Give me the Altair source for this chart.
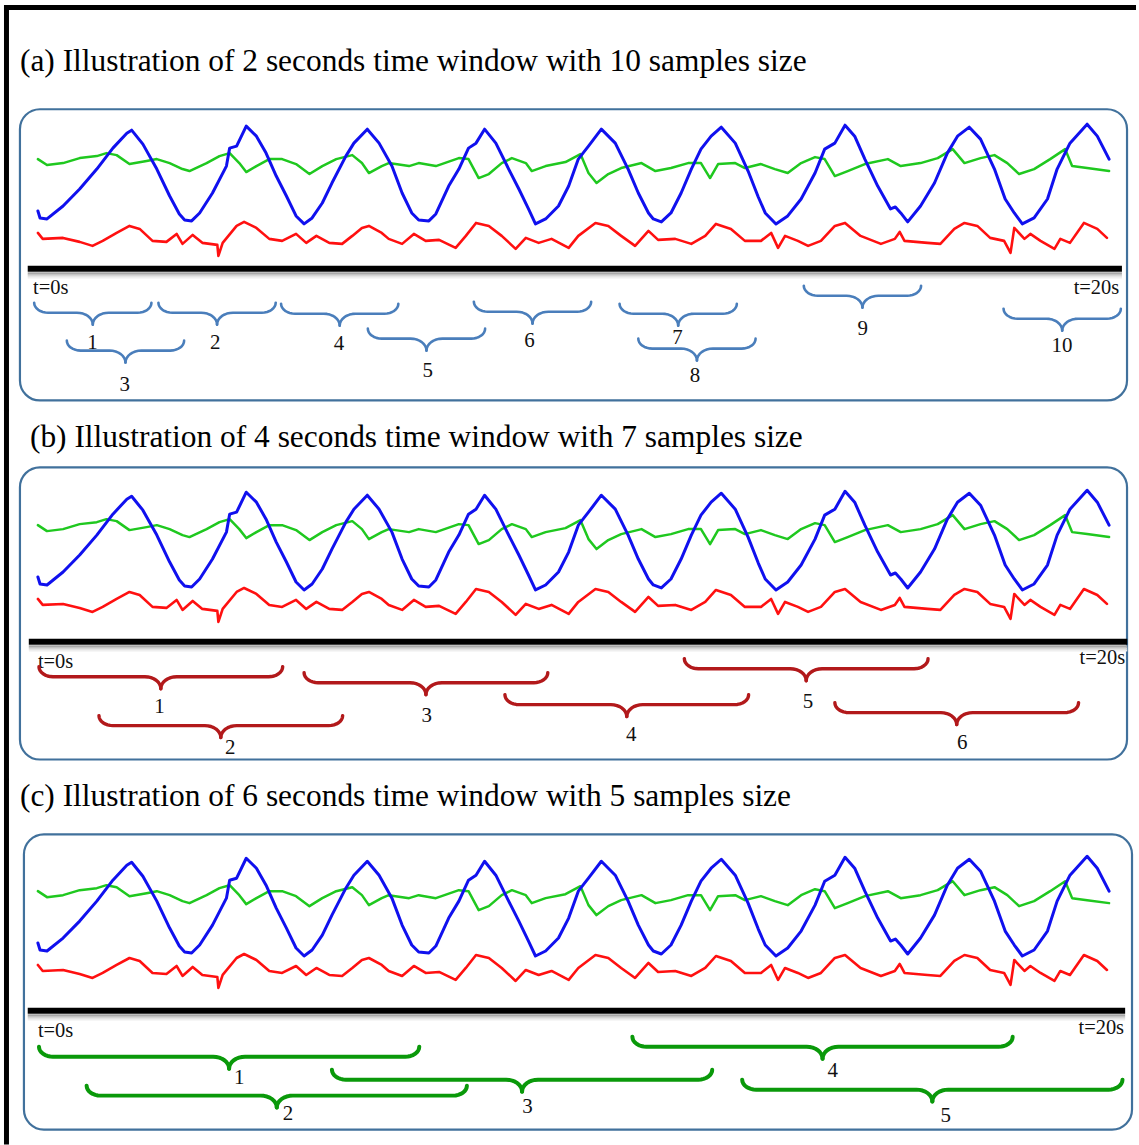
import math
import altair as alt
import pandas as pd

# ---------------- signal readings (time in s, amplitude in arbitrary units) -------------
BLUE_T = [0.00, 0.04, 0.17, 0.47, 0.78, 1.10, 1.40, 1.66, 1.75, 1.96, 2.22, 2.46, 2.64, 2.74, 2.87,
          3.02, 3.26, 3.52, 3.58, 3.71, 3.89, 4.08, 4.26, 4.45, 4.64, 4.82, 4.97, 5.12, 5.31, 5.49,
          5.75, 5.90, 6.15, 6.37, 6.61, 6.80, 6.98, 7.11, 7.30, 7.43, 7.67, 7.86, 8.04, 8.18, 8.34,
          8.55, 8.79, 8.98, 9.16, 9.29, 9.48, 9.72, 9.91, 10.09, 10.28, 10.52, 10.78, 11.02, 11.21,
          11.40, 11.49, 11.64, 11.82, 12.01, 12.20, 12.38, 12.57, 12.76, 13.02, 13.26, 13.45, 13.58,
          13.78, 14.00, 14.25, 14.51, 14.69, 14.88, 15.07, 15.25, 15.44, 15.68, 15.92, 16.01, 16.11,
          16.24, 16.48, 16.74, 16.98, 17.17, 17.39, 17.60, 17.86, 18.06, 18.23, 18.38, 18.60, 18.85,
          19.03, 19.27, 19.59, 19.78, 20.00]
BLUE_V = [58, 51, 50, 63, 80, 100, 121, 136, 139, 125, 100, 73, 55, 49, 48,
          56, 76, 103, 121, 123, 143, 133, 116, 93, 73, 53, 45, 51, 66, 86,
          113, 126, 140, 126, 103, 76, 56, 49, 48, 55, 83, 100, 121, 126, 140,
          126, 100, 80, 60, 45, 50, 63, 83, 110, 123, 140, 126, 100, 76,
          56, 50, 47, 56, 76, 100, 120, 133, 142, 126, 98, 72, 56,
          45, 53, 70, 96, 120, 126, 144, 133, 110, 83, 60, 62, 56,
          47, 63, 86, 116, 133, 142, 130, 100, 70, 56, 45, 51, 70,
          100, 126, 145, 133, 110]

GREEN_T = [0.00, 0.17, 0.47, 0.78, 1.10, 1.28, 1.47, 1.71, 2.03, 2.22, 2.46, 2.70, 2.83, 3.15, 3.39,
           3.58, 3.76, 3.89, 4.08, 4.32, 4.56, 4.82, 5.07, 5.31, 5.57, 5.87, 6.05, 6.18, 6.42, 6.55,
           6.93, 7.11, 7.43, 7.86, 8.04, 8.23, 8.42, 8.66, 8.85, 9.11, 9.22, 9.48, 9.85, 10.13, 10.28,
           10.43, 10.65, 10.89, 11.27, 11.53, 11.82, 12.14, 12.38, 12.55, 12.70, 13.02, 13.20, 13.50,
           13.76, 14.00, 14.25, 14.51, 14.69, 14.88, 15.12, 15.44, 15.87, 16.11, 16.48, 16.80, 17.08,
           17.30, 17.60, 17.86, 18.10, 18.32, 18.60, 18.90, 19.18, 19.31, 19.59, 20.00]
GREEN_V = [110, 104, 106, 111, 113, 116, 114, 105, 108, 110, 106, 100, 98, 106, 113,
           116, 106, 97, 103, 110, 110, 105, 95, 103, 110, 114, 106, 96, 103, 106,
           103, 106, 103, 111, 110, 91, 95, 106, 111, 106, 98, 103, 107, 115, 96,
           86, 95, 101, 106, 98, 101, 106, 106, 91, 105, 106, 101, 105,
           100, 96, 106, 112, 110, 93, 98, 105, 110, 103, 106, 111, 120,
           106, 111, 114, 106, 95, 100, 110, 120, 103, 101, 98]

RED_T = [0.00, 0.09, 0.47, 0.78, 1.02, 1.21, 1.47, 1.71, 1.90, 2.14, 2.40, 2.59, 2.70, 2.89, 3.07,
         3.35, 3.37, 3.45, 3.71, 3.85, 4.08, 4.32, 4.56, 4.82, 5.01, 5.20, 5.44, 5.68, 5.87, 6.05,
         6.18, 6.42, 6.55, 6.80, 7.02, 7.24, 7.49, 7.80, 7.99, 8.18, 8.42, 8.66, 8.92, 9.11, 9.35,
         9.59, 9.91, 10.09, 10.41, 10.65, 10.89, 11.15, 11.40, 11.58, 11.90, 12.20, 12.46, 12.66,
         12.94, 13.20, 13.50, 13.69, 13.82, 13.95, 14.19, 14.38, 14.62, 14.88, 15.07, 15.36, 15.74,
         16.00, 16.09, 16.18, 16.61, 16.85, 17.11, 17.30, 17.54, 17.78, 18.04, 18.16, 18.23, 18.42,
         18.53, 18.72, 18.98, 19.09, 19.27, 19.53, 19.78, 19.96]
RED_V = [36, 30, 31, 27, 23, 28, 36, 43, 40, 28, 27, 35, 25, 34, 26,
         24, 13, 26, 43, 47, 41, 30, 28, 35, 26, 33, 26, 25, 33, 41,
         43, 36, 30, 25, 35, 28, 29, 21, 33, 46, 43, 33, 20, 31, 26,
         30, 21, 33, 46, 43, 33, 23, 38, 29, 30, 25, 33, 45,
         40, 28, 28, 36, 21, 33, 28, 23, 28, 43, 46, 33, 25,
         30, 37, 28, 26, 25, 40, 46, 43, 31, 28, 16, 41, 30,
         35, 28, 20, 30, 26, 46, 40, 31]

# ---------------- windows (braces) ----------------
TITLES = ["(a) Illustration of 2 seconds time window with 10 samples size",
          "(b) Illustration of 4 seconds time window with 7 samples size",
          "(c) Illustration of 6 seconds time window with 5 samples size"]

A_LABELS = ["1", "2", "3", "4", "5", "6", "7", "8", "9", "10"]
A_START = [-0.07, 2.25, 0.54, 4.54, 6.16, 8.14, 10.86, 11.21, 14.30, 18.03]
A_LEN = 2.19
A_ROW = [-34, -34, -72, -35, -60, -33, -35, -70, -17, -40]
A_LX = [1.02, 3.31, 1.62, 5.62, 7.28, 9.18, 11.94, 12.27, 15.40, 19.12]
A_LY = [-74, -74, -117, -75, -102, -72, -69, -107, -60, -77]

B_LABELS = ["1", "2", "3", "4", "5", "6"]
B_START = [0.02, 1.14, 4.97, 8.72, 12.07, 14.88]
B_LEN = 4.55
B_ROW = [-32, -81, -38, -60, -24, -68]
B_LX = [2.27, 3.59, 7.26, 11.08, 14.38, 17.26]
B_LY = [-72, -113, -81, -100, -67, -108]

C_LABELS = ["1", "2", "3", "4", "5"]
C_START = [0.02, 0.91, 5.49, 11.10, 13.15]
C_LEN = 7.10
C_ROW = [-46, -85, -69, -36, -79]
C_LX = [3.76, 4.67, 9.14, 14.84, 16.95]
C_LY = [-77, -113, -106, -70, -115]

# ---------------- layout / style ----------------
W = 1139
PX_PER_S = 53.7
X_DOMAIN = [-38 / PX_PER_S, (W - 38) / PX_PER_S]
FONT = "Liberation Serif"
BOX_COLOR = "#41719c"

PANELS = [
    dict(title=TITLES[0], height=410, ydom=[-142, 268], tx=20, ty=70, box=(20, 1130, 108, 400),
         line=(-0.19, 20.24, 0), t0=(-0.09, -19), t20=(20.19, -19),
         color="#4a7ebb", bw=2.6, labels=A_LABELS, start=A_START, length=A_LEN, row=A_ROW,
         lx=A_LX, ly=A_LY, top=True),
    dict(title=TITLES[1], height=370, ydom=[-145, 225], tx=30, ty=37, box=(20, 1130, 57, 350),
         line=(-0.17, 20.34, -7), t0=(0.0, -27), t20=(20.30, -23),
         color="#b2191b", bw=3.4, labels=B_LABELS, start=B_START, length=B_LEN, row=B_ROW,
         lx=B_LX, ly=B_LY, top=False),
    dict(title=TITLES[2], height=365, ydom=[-143, 222], tx=20, ty=27, box=(24, 1135, 55, 351),
         line=(-0.19, 20.30, -10), t0=(0.0, -30), t20=(20.28, -27),
         color="#0a990a", bw=4.0, labels=C_LABELS, start=C_START, length=C_LEN, row=C_ROW,
         lx=C_LX, ly=C_LY, top=False),
]

signals = pd.concat([
    pd.DataFrame({"t": BLUE_T, "v": BLUE_V, "s": "blue"}),
    pd.DataFrame({"t": GREEN_T, "v": GREEN_V, "s": "green"}),
    pd.DataFrame({"t": RED_T, "v": RED_V, "s": "red"}),
], ignore_index=True)


def brace_frame(starts, length, rows, h1=10, h2=12, r1=14, r2=16, n=8):
    """Curly-brace glyph outline for each window (start .. start+length) at a given row."""
    out = []
    a1, a2 = r1 / PX_PER_S, r2 / PX_PER_S
    angs = [math.pi / 2 * j / n for j in range(n + 1)]
    for k, (s, tip) in enumerate(zip(starts, rows)):
        e = s + length
        m = (s + e) / 2
        flat = tip - h1
        # left curl, flat, dip to centre
        left = [(s + a1 * (1 - math.cos(a)), tip - h1 * math.sin(a)) for a in angs]
        left += [(m - a2 + a2 * math.sin(a), flat - h2 * (1 - math.cos(a))) for a in angs]
        right = [(2 * m - x, y) for (x, y) in reversed(left)]
        for half, pts in (("L", left), ("R", right)):
            for i, (x, y) in enumerate(pts):
                out.append({"id": f"{k}{half}", "i": i, "t": x, "v": y})
    return pd.DataFrame(out)


ONE = alt.Data(values=[{}])


def panel(p):
    xs = alt.Scale(domain=X_DOMAIN, nice=False, zero=False)
    ys = alt.Scale(domain=p["ydom"], nice=False, zero=False)
    X = lambda f: alt.X(f"{f}:Q", scale=xs, axis=None)
    Y = lambda f: alt.Y(f"{f}:Q", scale=ys, axis=None)
    H = p["height"]
    layers = []

    # outer frame (left and top edges)
    layers.append(alt.Chart(ONE).mark_rule(color="black", strokeWidth=5).encode(
        x=alt.value(6.5), y=alt.value(3.5 if p["top"] else -1), y2=alt.value(H + 1)))
    if p["top"]:
        layers.append(alt.Chart(ONE).mark_rule(color="black", strokeWidth=5).encode(
            x=alt.value(4), x2=alt.value(W), y=alt.value(6)))

    # title
    layers.append(alt.Chart(ONE).mark_text(text=p["title"], font=FONT, fontSize=31.5, align="left",
                                           baseline="alphabetic", color="black").encode(
        x=alt.value(p["tx"]), y=alt.value(p["ty"])))

    # rounded box
    bx0, bx1, by0, by1 = p["box"]
    layers.append(alt.Chart(ONE).mark_rect(cornerRadius=20, fill="white", stroke=BOX_COLOR,
                                           strokeWidth=2.2).encode(
        x=alt.value(bx0), x2=alt.value(bx1), y=alt.value(by0), y2=alt.value(by1)))

    # signals
    for name, col, sw in (("red", "#ff1010", 2.6), ("green", "#1fc81f", 2.5), ("blue", "#1010ee", 3.0)):
        layers.append(alt.Chart(signals).transform_filter(alt.datum.s == name).mark_line(
            color=col, strokeWidth=sw, strokeJoin="round", strokeCap="round").encode(
            x=X("t"), y=Y("v"), order="t:Q"))

    # time line with soft shadow
    l0, l1, lv = p["line"]
    tl = pd.DataFrame({"t": [l0], "t2": [l1], "v": [lv], "v3": [lv - 4.5], "v5": [lv - 6.5], "v7": [lv - 8.5]})
    for f, c in (("v7", "#eeeeee"), ("v5", "#d4d4d4"), ("v3", "#a8a8a8")):
        layers.append(alt.Chart(tl).mark_rule(color=c, strokeWidth=2.2).encode(
            x=X("t"), x2="t2:Q", y=Y(f)))
    layers.append(alt.Chart(tl).mark_rule(color="black", strokeWidth=6).encode(
        x=X("t"), x2="t2:Q", y=Y("v")))

    # t=0s / t=20s
    tlab = pd.DataFrame({"t": [p["t0"][0]], "v": [p["t0"][1]], "lab": ["t=0s"]})
    tlab2 = pd.DataFrame({"t": [p["t20"][0]], "v": [p["t20"][1]], "lab": ["t=20s"]})
    layers.append(alt.Chart(tlab).mark_text(font=FONT, fontSize=20.5, align="left", baseline="middle",
                                            color="#111111").encode(x=X("t"), y=Y("v"), text="lab:N"))
    layers.append(alt.Chart(tlab2).mark_text(font=FONT, fontSize=20.5, align="right", baseline="middle",
                                             color="#111111").encode(x=X("t"), y=Y("v"), text="lab:N"))

    # braces
    bf = brace_frame(p["start"], p["length"], p["row"])
    layers.append(alt.Chart(bf).mark_line(color=p["color"], strokeWidth=p["bw"],
                                          strokeCap="round", strokeJoin="round").encode(
        x=X("t"), y=Y("v"), detail="id:N", order="i:Q"))
    lab = pd.DataFrame({"t": p["lx"], "v": p["ly"], "lab": p["labels"]})
    layers.append(alt.Chart(lab).mark_text(font=FONT, fontSize=21, align="center", baseline="middle",
                                           color="#111111").encode(x=X("t"), y=Y("v"), text="lab:N"))

    return alt.layer(*layers).properties(width=W, height=H)


chart = alt.vconcat(*[panel(p) for p in PANELS], spacing=0, bounds="flush").properties(
    padding={"left": 0, "top": 0, "right": 0, "bottom": 0}, background="white"
).configure_view(stroke=None)

chart.save("out.html", embed_options={"renderer": "svg", "actions": False})
